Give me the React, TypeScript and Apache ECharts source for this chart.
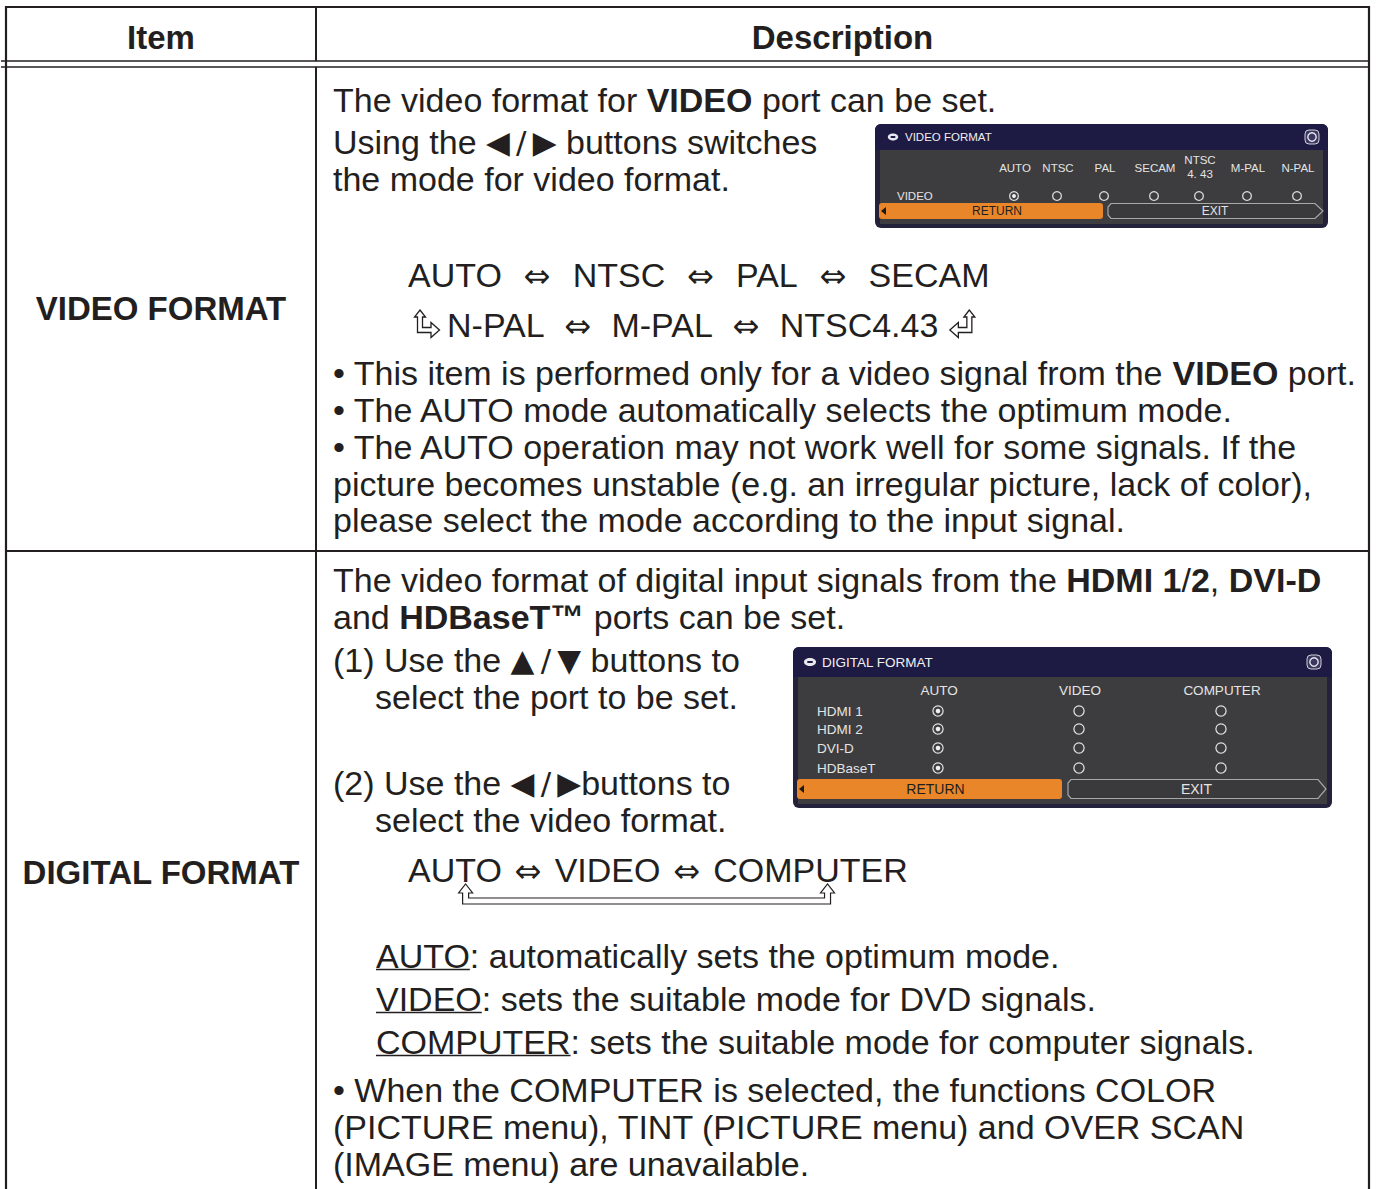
import React, { useEffect, useRef } from 'react';
import * as echarts from 'echarts';

const W = 1376;
const H = 1189;
const FAMILY = "'Liberation Sans', Arial, Helvetica, sans-serif";
const SYM = "'DejaVu Sans', sans-serif";
const INK = '#231f20';
const BODY = 34;
const BOLD = 33;

// ---------- texts ----------
const HEADERS = ['Item', 'Description'];
const ITEMS = ['VIDEO FORMAT', 'DIGITAL FORMAT'];

const VIDEO_TOP = [
  'The video format for {b|VIDEO} port can be set.',
  'Using the {s|◀\u2009/\u2009▶} buttons switches',
  'the mode for video format.',
];
const VIDEO_CYCLE_1 = ['AUTO', 'NTSC', 'PAL', 'SECAM'];
const VIDEO_CYCLE_2 = ['N-PAL', 'M-PAL', 'NTSC4.43'];
const VIDEO_NOTES = [
  '• This item is performed only for a video signal from the {b|VIDEO} port.',
  '• The AUTO mode automatically selects the optimum mode.',
  '• The AUTO operation may not work well for some signals. If the',
  'picture becomes unstable (e.g. an irregular picture, lack of color),',
  'please select the mode according to the input signal.',
];

const DIGITAL_TOP = [
  'The video format of digital input signals from the {b|HDMI 1}/{b|2}, {b|DVI-D}',
  'and {b|HDBaseT™} ports can be set.',
];
const DIGITAL_STEPS = [
  '(1) Use the {s|▲\u2009/\u2009▼} buttons to',
  'select the port to be set.',
  '(2) Use the {s|◀\u2009/\u2009▶}buttons to',
  'select the video format.',
];
const DIGITAL_CYCLE = ['AUTO', 'VIDEO', 'COMPUTER'];
const DIGITAL_TERMS = ['AUTO', 'VIDEO', 'COMPUTER'];
const DIGITAL_DEFS = [
  ': automatically sets the optimum mode.',
  ': sets the suitable mode for DVD signals.',
  ': sets the suitable mode for computer signals.',
];
const DIGITAL_NOTES = [
  '• When the COMPUTER is selected, the functions COLOR',
  '(PICTURE menu), TINT (PICTURE menu) and OVER SCAN',
  '(IMAGE menu) are unavailable.',
];

const VF_MENU_TITLE = 'VIDEO FORMAT';
const VF_MENU_OPTIONS = ['AUTO', 'NTSC', 'PAL', 'SECAM', 'NTSC\n4. 43', 'M-PAL', 'N-PAL'];
const VF_MENU_ROWS = ['VIDEO'];
const VF_SELECTED = [0];
const DF_MENU_TITLE = 'DIGITAL FORMAT';
const DF_MENU_OPTIONS = ['AUTO', 'VIDEO', 'COMPUTER'];
const DF_MENU_ROWS = ['HDMI 1', 'HDMI 2', 'DVI-D', 'HDBaseT'];
const DF_SELECTED = [0, 0, 0, 0];
const MENU_BUTTONS = ['RETURN', 'EXIT'];

// ---------- layout ----------
const VIDEO_TOP_Y = [100, 142, 179];
const VIDEO_NOTES_Y = [373, 410, 447, 484, 520];
const DIGITAL_TOP_Y = [580, 617];
const DIGITAL_STEPS_POS = [
  [333, 660],
  [375, 697],
  [333, 783],
  [375, 820],
];
const DIGITAL_DEFS_Y = [956, 999, 1042];
const DIGITAL_NOTES_Y = [1090, 1127, 1164];

const VF_LAYOUT = {
  x: 875, y: 124, w: 453, h: 104, titleH: 26, font: 11.5,
  titleX: 905, iconX: 893, rIconX: 1312,
  optX: [1015, 1058, 1105, 1155, 1200, 1248, 1298], headY: 168,
  rowY: [196], labelX: 897,
  btnY: 203, btnH: 16, retX1: 879, retX2: 1103, exitX1: 1107, exitX2: 1323,
};
const DF_LAYOUT = {
  x: 793, y: 647, w: 539, h: 161, titleH: 30, font: 13.5,
  titleX: 822, iconX: 810, rIconX: 1314,
  optX: [939, 1080, 1222], headY: 690,
  rowY: [711, 729, 748, 768], labelX: 817,
  btnY: 779, btnH: 20, retX1: 797, retX2: 1062, exitX1: 1067, exitX2: 1326,
};

let measureCtx: CanvasRenderingContext2D | null = null;
function measure(text: string, size: number, weight = 'normal', family = FAMILY) {
  if (!measureCtx) measureCtx = document.createElement('canvas').getContext('2d');
  measureCtx!.font = `${weight} ${size}px ${family}`;
  return measureCtx!.measureText(text).width;
}

const RICH = {
  b: { fontFamily: FAMILY, fontSize: BODY, fontWeight: 'bold', fill: INK, lineHeight: 40 },
  s: { fontFamily: SYM, fontSize: 31, fill: INK, lineHeight: 40 },
};

function text(x: number, y: number, t: string, o: any = {}) {
  const align = o.align || 'left';
  return {
    type: 'text',
    x,
    y,
    silent: true,
    z: o.z || 10,
    style: {
      text: t,
      fill: o.fill || INK,
      fontFamily: o.family || FAMILY,
      fontSize: o.size || BODY,
      fontWeight: o.weight || 'normal',
      lineHeight: o.lineHeight || 40,
      align,
      textAlign: align,
      verticalAlign: 'middle',
      textVerticalAlign: 'middle',
      rich: o.rich,
    },
  };
}

function line(x1: number, y1: number, x2: number, y2: number, w = 2, color = INK) {
  return { type: 'line', silent: true, z: 5, shape: { x1, y1, x2, y2 }, style: { stroke: color, lineWidth: w } };
}

function cycleLine(words: string[], x0: number, y: number, gap: number, els: any[]) {
  const arrowSize = 32;
  const aw = measure('⇔', arrowSize, 'normal', SYM);
  let x = x0;
  const starts: number[] = [];
  words.forEach((w, i) => {
    starts.push(x);
    els.push(text(x, y, w));
    x += measure(w, BODY);
    if (i < words.length - 1) {
      x += gap;
      els.push(text(x, y + 1, '⇔', { family: SYM, size: arrowSize }));
      x += aw + gap;
    }
  });
  return { starts, end: x };
}

const HOOK = [
  [5, 0], [10.5, 7], [7.5, 7], [7.5, 17.5], [16, 17.5], [16, 12.5], [24.5, 20], [16, 27.5], [16, 22.5], [2.5, 22.5], [2.5, 7], [-0.5, 7],
];

function hook(ox: number, oy: number, mirror: boolean) {
  const pts = HOOK.map(([px, py]) => [ox + (mirror ? 24 - px : px), oy + py]);
  return { type: 'polygon', silent: true, z: 10, shape: { points: pts }, style: { fill: '#fff', stroke: INK, lineWidth: 1.3 } };
}

function menu(L: any, title: string, options: string[], rows: string[], selected: number[], els: any[]) {
  const mf = "'Liberation Sans', Arial, sans-serif";
  const light = '#e4e4e4';
  els.push({ type: 'rect', silent: true, z: 6, shape: { x: L.x, y: L.y, width: L.w, height: L.h, r: 6 }, style: { fill: '#24223a' } });
  els.push({ type: 'rect', silent: true, z: 7, shape: { x: L.x, y: L.y, width: L.w, height: L.titleH, r: [6, 6, 0, 0] }, style: { fill: '#1d1a44' } });
  els.push({ type: 'rect', silent: true, z: 7, shape: { x: L.x + 5, y: L.y + L.titleH, width: L.w - 10, height: L.h - L.titleH - 4 }, style: { fill: '#3d3d3f' } });
  const ty = L.y + L.titleH / 2;
  els.push({ type: 'ellipse', silent: true, z: 8, shape: { cx: L.iconX, cy: ty, rx: L.font * 0.45, ry: L.font * 0.3 }, style: { fill: '#e8e8f0' } });
  els.push({ type: 'rect', silent: true, z: 9, shape: { x: L.iconX - L.font * 0.2, y: ty - 1, width: L.font * 0.4, height: 2 }, style: { fill: '#1d1a44' } });
  els.push(text(L.titleX, ty, title, { family: mf, size: L.font, fill: '#f0f0f0', z: 9 }));
  els.push({ type: 'rect', silent: true, z: 8, shape: { x: L.rIconX - 7, y: ty - 7, width: 14, height: 14, r: 4 }, style: { fill: '#3a3860', stroke: '#cfcfd8', lineWidth: 1 } });
  els.push({ type: 'circle', silent: true, z: 9, shape: { cx: L.rIconX, cy: ty, r: 4.2 }, style: { fill: 'none', stroke: '#e6e6ee', lineWidth: 1.4 } });
  options.forEach((o, i) => {
    const two = o.includes('\n');
    els.push(text(L.optX[i], L.headY - (two ? 1 : 0), o, { family: mf, size: L.font, fill: light, align: 'center', lineHeight: L.font + 2, z: 9 }));
  });
  rows.forEach((r, ri) => {
    const y = L.rowY[ri];
    els.push(text(L.labelX, y, r, { family: mf, size: L.font, fill: light, z: 9 }));
    options.forEach((_, ci) => {
      const cx = L.optX[ci] - 1;
      els.push({ type: 'circle', silent: true, z: 9, shape: { cx, cy: y, r: L.font * 0.38 }, style: { fill: 'none', stroke: '#dcdcdc', lineWidth: 1.3 } });
      if (selected[ri] === ci) {
        els.push({ type: 'circle', silent: true, z: 9, shape: { cx, cy: y, r: L.font * 0.17 }, style: { fill: '#f0f0f0' } });
      }
    });
  });
  const by = L.btnY, bh = L.btnH, bm = by + bh / 2;
  els.push({ type: 'rect', silent: true, z: 8, shape: { x: L.retX1, y: by, width: L.retX2 - L.retX1, height: bh, r: 3 }, style: { fill: '#e9862a' } });
  els.push({ type: 'polygon', silent: true, z: 9, shape: { points: [[L.retX1 + 2, bm], [L.retX1 + 7, bm - 4], [L.retX1 + 7, bm + 4]] }, style: { fill: '#1a1a1a' } });
  els.push(text((L.retX1 + L.retX2) / 2 + 6, bm, MENU_BUTTONS[0], { family: mf, size: L.font + 0.5, fill: '#1e1e1e', align: 'center', z: 9 }));
  const ex1 = L.exitX1, ex2 = L.exitX2;
  els.push({
    type: 'polygon', silent: true, z: 8,
    shape: { points: [[ex1 + 4, by + 0.5], [ex2 - 8, by + 0.5], [ex2, bm], [ex2 - 8, by + bh - 0.5], [ex1 + 4, by + bh - 0.5], [ex1 + 1, by + bh - 4], [ex1 + 1, by + 4]] },
    style: { fill: '#3a3a3c', stroke: '#a8a8a8', lineWidth: 1.2 },
  });
  els.push(text((ex1 + ex2) / 2, bm, MENU_BUTTONS[1], { family: mf, size: L.font + 0.5, fill: light, align: 'center', z: 9 }));
}

function buildElements() {
  const els: any[] = [];
  els.push({ type: 'rect', silent: true, z: 0, shape: { x: 0, y: 0, width: W, height: H }, style: { fill: '#ffffff' } });

  const L = 6, R = 1369, C = 316;
  els.push(line(L - 1, 7, R + 1, 7, 2.2));
  els.push(line(L, 6, L, H, 2.2));
  els.push(line(R, 6, R, H, 2.2));
  els.push(line(C, 7, C, 61, 2));
  els.push(line(C, 67, C, H, 2));
  els.push(line(1, 61, R, 61, 1.6));
  els.push(line(1, 67, R, 67, 1.6));
  els.push(line(L, 551, R, 551, 2.2));

  els.push(text((L + C) / 2, 37, HEADERS[0], { weight: 'bold', size: BOLD, align: 'center' }));
  els.push(text((C + R) / 2, 37, HEADERS[1], { weight: 'bold', size: BOLD, align: 'center' }));
  els.push(text((L + C) / 2, 308, ITEMS[0], { weight: 'bold', size: BOLD, align: 'center' }));
  els.push(text((L + C) / 2, 872, ITEMS[1], { weight: 'bold', size: BOLD, align: 'center' }));

  const X0 = 333;
  VIDEO_TOP.forEach((t, i) => els.push(text(X0, VIDEO_TOP_Y[i], t, { rich: RICH })));
  cycleLine(VIDEO_CYCLE_1, 408, 275, 22, els);
  const c2 = cycleLine(VIDEO_CYCLE_2, 447, 325, 20, els);
  els.push(hook(415, 310, false));
  els.push(hook(c2.end + 12, 310, true));
  VIDEO_NOTES.forEach((t, i) => els.push(text(X0, VIDEO_NOTES_Y[i], t, { rich: RICH })));
  menu(VF_LAYOUT, VF_MENU_TITLE, VF_MENU_OPTIONS, VF_MENU_ROWS, VF_SELECTED, els);

  DIGITAL_TOP.forEach((t, i) => els.push(text(X0, DIGITAL_TOP_Y[i], t, { rich: RICH })));
  DIGITAL_STEPS.forEach((t, i) => els.push(text(DIGITAL_STEPS_POS[i][0], DIGITAL_STEPS_POS[i][1], t, { rich: RICH })));
  const dc = cycleLine(DIGITAL_CYCLE, 408, 870, 13, els);
  const xl = dc.starts[0] + measure('AU', BODY) + measure('T', BODY) / 2;
  const xr = dc.starts[2] + measure('COMP', BODY) + measure('U', BODY) / 2;
  const t = 884, b = 904;
  els.push({
    type: 'polygon', silent: true, z: 10,
    shape: {
      points: [
        [xl, t], [xl + 7, t + 9], [xl + 3, t + 9], [xl + 3, b - 6], [xr - 3, b - 6], [xr - 3, t + 9], [xr - 7, t + 9],
        [xr, t], [xr + 7, t + 9], [xr + 3, t + 9], [xr + 3, b], [xl - 3, b], [xl - 3, t + 9], [xl - 7, t + 9],
      ],
    },
    style: { fill: '#fff', stroke: INK, lineWidth: 1.2 },
  });
  DIGITAL_TERMS.forEach((term, i) => {
    const y = DIGITAL_DEFS_Y[i];
    const tw = measure(term, BODY);
    els.push(text(376, y, term));
    els.push(line(376, y + 13.5, 376 + tw, y + 13.5, 1.4));
    els.push(text(376 + tw, y, DIGITAL_DEFS[i]));
  });
  DIGITAL_NOTES.forEach((tx, i) => els.push(text(X0, DIGITAL_NOTES_Y[i], tx)));
  menu(DF_LAYOUT, DF_MENU_TITLE, DF_MENU_OPTIONS, DF_MENU_ROWS, DF_SELECTED, els);

  return els;
}

export default function App() {
  const ref = useRef<HTMLDivElement>(null);
  useEffect(() => {
    document.body.style.margin = '0';
    const chart = echarts.init(ref.current!, null, { renderer: 'svg', width: W, height: H });
    chart.setOption({
      animation: false,
      backgroundColor: '#ffffff',
      graphic: { elements: buildElements() },
    });
    return () => chart.dispose();
  }, []);
  return <div ref={ref} style={{ width: W, height: H }} />;
}
